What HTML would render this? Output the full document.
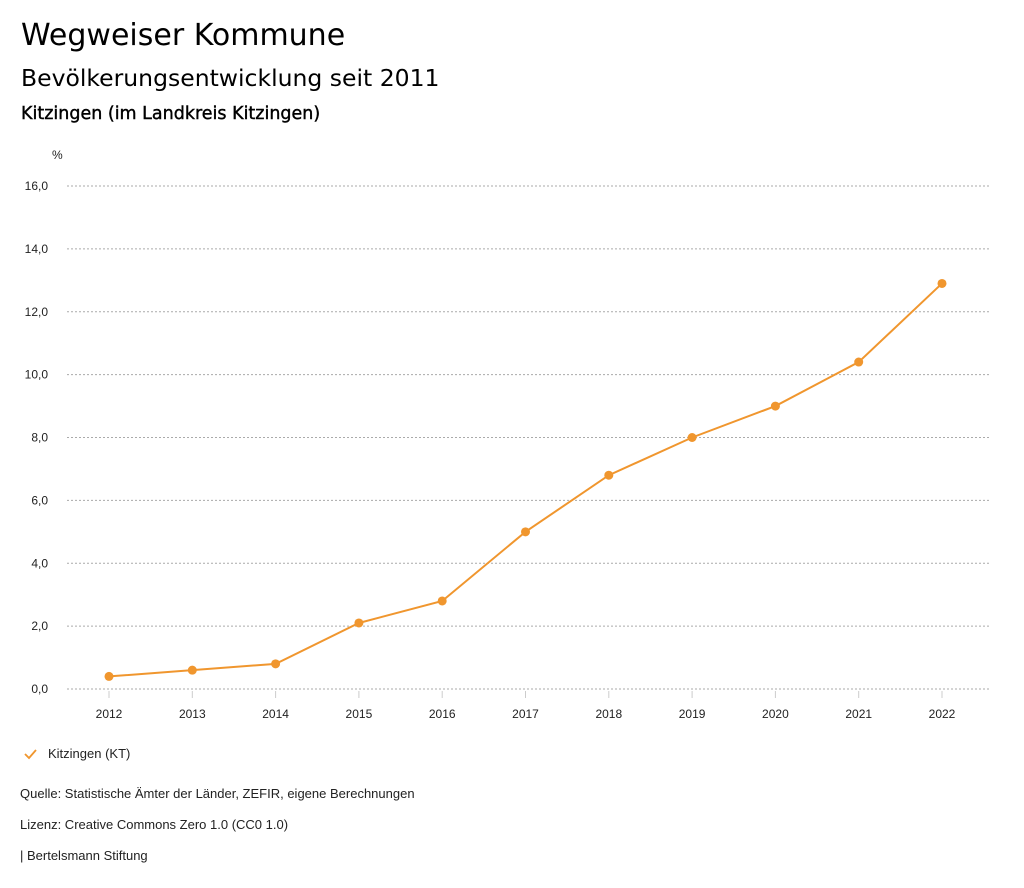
<!DOCTYPE html>
<html><head><meta charset="utf-8">
<style>
body{margin:0;background:#fff;width:1024px;height:888px;overflow:hidden;position:relative;font-family:"Liberation Sans",sans-serif;}
.t{position:absolute;left:21px;color:#000;font-family:"DejaVu Sans","Liberation Sans",sans-serif;white-space:nowrap;}
.f{position:absolute;left:20px;font-size:13px;color:#222;white-space:nowrap;}
</style></head><body>
<div class="t" style="top:18px;font-size:30px;">Wegweiser Kommune</div>
<div class="t" style="top:64px;font-size:23.5px;">Bevölkerungsentwicklung seit 2011</div>
<div class="t" style="top:104px;font-size:17.5px;-webkit-text-stroke:0.4px #000;">Kitzingen (im Landkreis Kitzingen)</div>
<svg id="c" width="1024" height="888" style="position:absolute;left:0;top:0"></svg>
<div class="f" style="left:48px;top:746px;">Kitzingen (KT)</div>
<div class="f" style="top:786px;">Quelle: Statistische Ämter der Länder, ZEFIR, eigene Berechnungen</div>
<div class="f" style="top:817px;">Lizenz: Creative Commons Zero 1.0 (CC0 1.0)</div>
<div class="f" style="top:848px;">| Bertelsmann Stiftung</div>
<script>
const years=[2012,2013,2014,2015,2016,2017,2018,2019,2020,2021,2022];
const values=[0.4,0.6,0.8,2.1,2.8,5.0,6.8,8.0,9.0,10.4,12.9];
const yTicks=[0,2,4,6,8,10,12,14,16];
const yTickLabels=["0,0","2,0","4,0","6,0","8,0","10,0","12,0","14,0","16,0"];
const NS="http://www.w3.org/2000/svg";
const svg=document.getElementById('c');
const x=i=>109+i*(942-109)/(years.length-1);
const y=v=>689-v*(689-186)/16;
function mk(t,a,p){const e=document.createElementNS(NS,t);for(const k in a)e.setAttribute(k,a[k]);(p||svg).appendChild(e);return e;}
const cl="#f0962e";
yTicks.forEach((v,i)=>{
 const g=mk('line',{x1:67,x2:990,y1:y(v),y2:y(v),stroke:'#aaa','stroke-dasharray':'2,2','stroke-width':1});
 
 
 const t=mk('text',{x:48,y:y(v)+4,'text-anchor':'end','font-size':12,fill:'#222','font-family':'Liberation Sans, sans-serif'});
 t.textContent=yTickLabels[i];
 
 
});
const u=mk('text',{x:52,y:159,'font-size':12,fill:'#222'});u.textContent='%';


years.forEach((yr,i)=>{
 const tk=mk('line',{x1:x(i),x2:x(i),y1:691,y2:698,stroke:'#ccc'});
 
 
 const t=mk('text',{x:x(i),y:718,'text-anchor':'middle','font-size':12,fill:'#222'});
 t.textContent=yr;
 
 
});
const line=mk('polyline',{points:values.map((v,i)=>x(i)+','+y(v)).join(' '),fill:'none',stroke:cl,'stroke-width':2});


values.forEach((v,i)=>{
 const c=mk('circle',{cx:x(i),cy:y(v),r:4.5,fill:cl});
 
 
});
const lg=mk('polyline',{points:'25,754 29,758 36,750',fill:'none',stroke:cl,'stroke-width':1.8});


</script>
</body></html>
